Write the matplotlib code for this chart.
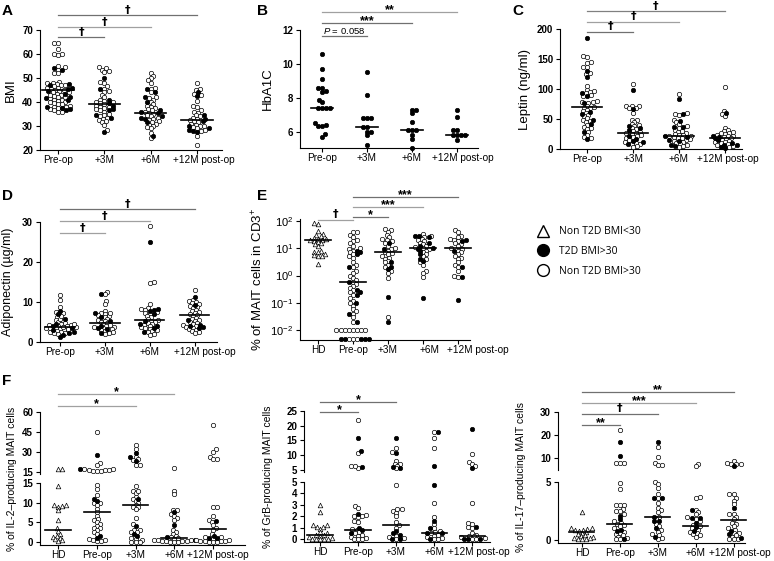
import numpy as np
import matplotlib.pyplot as plt
from matplotlib import transforms
from matplotlib.lines import Line2D

plt.rcParams['font.family'] = ['Liberation Sans', 'DejaVu Sans']
plt.rcParams['mathtext.fontset'] = 'custom'
plt.rcParams['mathtext.rm'] = 'Liberation Sans'
plt.rcParams['mathtext.it'] = 'Liberation Sans:italic'
plt.rcParams['mathtext.bf'] = 'Liberation Sans:bold'

W, H = 774, 561

groups4 = ['Pre-op', '+3M', '+6M', '+12M post-op']
groups5 = ['HD', 'Pre-op', '+3M', '+6M', '+12M post-op']

# A: BMI
bmi_open = [
    [64.5, 64.5, 62, 60, 59.5, 60, 55, 54.5, 53.5, 52, 52, 48.5, 48, 48, 47.5, 47, 46.5, 46, 45.5, 45, 44.5, 44,
     43.5, 43, 42.5, 42, 41.5, 41, 41, 40.5, 40, 40, 39.5, 39, 38.5, 38, 37.5, 37, 36.5, 36, 36, 38, 39, 42, 45,
     46, 47, 44, 43],
    [54.5, 54, 53.5, 53, 52.5, 48.5, 48, 46.5, 45.5, 44.5, 44, 43, 42, 41, 40.5, 40, 40, 39.5, 39, 38.5, 38, 38,
     37.5, 37, 36.5, 36, 35, 34.5, 34, 33.5, 33, 32.5, 32, 31.5, 30.5, 28.5],
    [52, 51, 50, 49, 48, 46, 45.5, 44, 42, 41.5, 41, 40, 39, 38.5, 38, 37.5, 37, 36.5, 36, 35.5, 35, 34.5, 34,
     33.5, 33, 32.5, 32, 31.5, 31, 30.5, 30, 29.5, 29, 27, 25],
    [48, 45.5, 45, 43.5, 43, 40.5, 38.5, 38, 36.5, 36, 35.5, 34.5, 34, 33.5, 33, 32.5, 32, 31.5, 31, 30.5, 30, 30,
     29.5, 29, 28.5, 28, 26, 22],
]
bmi_filled = [
    [54, 53.5, 47.5, 47, 46, 45.5, 44.5, 43.5, 42, 41.5, 41, 37.5, 36.5, 37, 38],
    [50, 45.5, 41, 39.5, 38.5, 37, 36.5, 34.5, 33.5, 27.5],
    [45.5, 44, 42, 40, 36.5, 36, 35.5, 34, 33.5, 33, 31.5, 26],
    [44, 42.5, 34.5, 33, 32, 30, 29, 28.5, 28, 27.5],
]
bmi_median = [45, 39, 35.5, 32.3]

# B: HbA1C (all T2D)
hba_filled = [
    [10.6, 9.7, 9.1, 8.6, 8.6, 8.4, 8.35, 7.9, 7.75, 7.4, 7.4, 7.4, 7.4, 6.5, 6.35, 6.35, 6.4, 5.85, 5.7],
    [9.5, 8.2, 6.8, 6.8, 6.8, 6.3, 6.3, 6.0, 6.0, 5.8, 5.2],
    [7.3, 7.3, 7.1, 6.6, 6.1, 6.1, 6.1, 5.8, 5.6, 5.05],
    [7.3, 6.9, 6.1, 6.1, 5.8, 5.8, 5.8, 5.8, 5.5],
]
hba_median = [7.4, 6.3, 6.1, 5.8]

# C: Leptin
lep_open = [
    [155, 154, 145, 143, 137, 136, 127, 125, 105, 99, 97, 95, 93, 90, 89, 80, 79, 78, 77, 72, 70, 69, 68, 65, 63,
     60, 57, 55, 51, 48, 46, 45, 40, 37, 35, 33, 28, 23, 20, 18],
    [108, 72, 72, 71, 69, 68, 60, 49, 48, 45, 42, 40, 38, 35, 33, 30, 28, 27, 26, 25, 23, 22, 20, 18, 15, 12, 10,
     9, 8, 5, 3],
    [91, 60, 59, 57, 48, 45, 42, 38, 35, 32, 30, 28, 27, 25, 24, 23, 22, 21, 20, 19, 18, 16, 15, 14, 12, 10, 8, 7,
     5, 3],
    [104, 63, 58, 55, 35, 32, 30, 28, 27, 26, 25, 24, 22, 21, 20, 18, 17, 15, 13, 12, 11, 10, 8, 6, 5, 3],
]
lep_filled = [
    [185, 130, 120, 94, 88, 76, 62, 58, 49, 41, 29, 17],
    [98, 66, 38, 35, 31, 22, 17, 14, 12, 8],
    [84, 58, 47, 37, 36, 22, 20, 15, 13, 7, 5],
    [60, 22, 20, 18, 15, 10, 7, 6, 4, 2],
]
lep_median = [70, 27, 22, 19]

# D: Adiponectin
adi_open = [
    [11.8, 10.5, 8.8, 7.5, 7.2, 6.2, 5.5, 5.2, 5, 4.8, 4.5, 4.3, 4.2, 4, 3.9, 3.8, 3.6, 3.5, 3.4, 3.2, 3, 2.8, 2.6,
     2.5, 2.3, 2.2, 2, 3.3, 3.7, 4.6, 5.8, 6.5],
    [12.5, 12, 10.2, 9.5, 7.8, 7.2, 7, 6.5, 6.2, 5.8, 5.5, 5.2, 5, 4.8, 4.5, 4.2, 4, 3.8, 3.5, 3.3, 3, 2.8, 2.5,
     2.2, 2, 7.2, 6.8, 3.8],
    [29, 15, 14.8, 9.5, 8.5, 8.2, 8, 7.5, 7.2, 7, 6.5, 6.2, 5.8, 5.5, 5.2, 5, 4.8, 4.5, 4.2, 4, 3.8, 3.5, 3.2, 3,
     2.8, 2.5, 2, 1.8],
    [13, 10.5, 10.3, 10, 9.8, 9.5, 9, 8.8, 8.5, 8, 7.8, 7.5, 7.2, 7, 6.8, 6.5, 6, 5.8, 5.5, 5.2, 5, 4.8, 4.5, 4.3,
     4, 3.8, 3.5, 3.3, 3, 2.8, 2.5, 2.2],
]
adi_filled = [
    [7.8, 7, 5.8, 4.5, 4, 3.5, 3, 2.6, 2.3, 1.8, 1.3],
    [12, 7.2, 6.2, 5.2, 4, 3.5, 3.2, 2.2],
    [25, 8.2, 8.1, 7.8, 7, 5.3, 4.5, 4, 3.5, 2.5],
    [11.2, 9.2, 5.5, 4.2, 4, 3.8, 3.5],
]
adi_median = [3.8, 4.8, 5.4, 6.8]

# E: % MAIT in CD3+ (HD = triangles)
mait_hd = [82, 76, 41, 33, 30, 27, 24, 22, 21, 20, 19, 18, 17, 15, 14, 12, 8, 7.5, 7, 6, 5.5, 5, 5, 2.6]
mait_open = [
    [40, 38, 30, 25, 20, 18, 15, 12, 10, 9, 8, 7, 6, 5, 4.5, 3, 2.5, 2, 1.5, 1.2, 1, 0.8, 0.7, 0.6, 0.5, 0.4,
     0.35, 0.3, 0.25, 0.2, 0.15, 0.12, 0.1, 0.08, 0.06, 0.05, 0.04, 0.03, 0.02,
     0.01, 0.01, 0.01, 0.01, 0.01, 0.01, 0.01, 0.01, 0.005, 0.005, 0.005],
    [50, 45, 40, 30, 25, 22, 20, 18, 15, 12, 10, 9, 8, 7, 6.5, 6, 5, 4.5, 4, 3.5, 3, 2.5, 2, 1.5, 1.2, 0.8, 0.03],
    [32, 28, 25, 22, 20, 18, 16, 14, 12, 11, 10, 9, 8, 7, 6, 5, 4, 3, 2.5, 1.5, 1.2, 0.9],
    [45, 40, 28, 25, 22, 20, 18, 15, 14, 12, 10, 9, 8, 7, 6, 5, 4.5, 4, 3, 2.5, 2, 1.5, 1, 0.9],
]
mait_filled = [
    [8, 7, 6, 2, 0.6, 0.3, 0.25, 0.2, 0.1, 0.04, 0.02, 0.005, 0.005, 0.005, 0.005, 0.005],
    [16, 9, 3, 2, 1.7, 0.17, 0.02],
    [28, 27, 25, 15, 12, 10, 9, 8, 6, 4, 3.5, 0.15],
    [20, 18, 8, 2, 0.9, 0.13],
]
mait_median = [19, 0.6, 7, 10, 10]

# F1: IL-2
il2_hd = [17, 17, 14.3, 9.3, 9.0, 9.2, 9.5, 8.2, 5.5, 3.5, 2.8, 2, 1.5, 1.2, 1.0, 0.8, 0.5, 0.3]
il2_open = [
    [45, 22, 20, 17, 17, 16.5, 16.5, 16.5, 16, 16, 15.5, 14.5, 13.5, 12, 10, 10, 9.5, 8.5, 7.5, 6.5, 5.8, 5.5, 5,
     4.5, 4, 3.5, 3.5, 3, 2.5, 2, 0.8, 0.5, 0.5, 0.3, 0.2],
    [35, 32, 26, 25, 24, 20, 20, 14.2, 13, 12.5, 13, 11.5, 11, 10.5, 10, 9.5, 9, 9, 8.5, 6, 4.5, 3, 3, 2.5, 2.5,
     1, 0.8, 0.5, 0, 0, 0],
    [18, 13, 12.2, 8.2, 8, 7, 6.5, 6, 5.5, 3, 2.5, 2, 1.5, 1.2, 1, 0.8, 0.6, 0.5, 0.4, 0.3, 0.2, 0.1, 0.1, 0, 0,
     0],
    [50, 32, 30, 26, 24.5, 24.5, 9, 9, 6.5, 5.5, 5, 4.3, 3.5, 3, 2, 1.3, 1.2, 0.8, 0.6, 0.5, 0.3, 0.3, 0.2, 0.1,
     0, 0, 0],
]
il2_filled = [
    [28, 17, 11, 10.5, 1.5, 1],
    [29, 26, 23, 11, 4, 2, 1.5],
    [7.5, 4.3, 1.2, 0.5],
    [5.3, 1.5, 1, 1],
]
il2_median = [3, 7.6, 9.5, 1.1, 3.2]

# F2: GrB
grb_hd = [3.0, 2.4, 1.2, 1.2, 1.1, 1.1, 0.9, 0.6, 0.5, 0.4, 0.35, 0.3, 0.2, 0.1, 0.05, 0, 0, 0, 0]
grb_open = [
    [22, 10.7, 6.3, 5.6, 6.2, 2.9, 2.7, 2.1, 2.0, 2.0, 1.9, 1.6, 1.5, 0.9, 0.8, 0.6, 0.5, 0.4, 0.3, 0.2, 0.1,
     0.05, 0, 0],
    [12.5, 11, 8, 7, 7, 6.5, 5.5, 4.7, 2.6, 2.6, 2.5, 2.3, 2.0, 1.5, 1.2, 1.0, 0.3, 0.2, 0.1, 0],
    [18, 16, 12.3, 3.2, 1.9, 1.3, 1.0, 0.7, 0.6, 0.5, 0.4, 0.3, 0.2, 0.1, 0, 0],
    [10.3, 7.8, 7, 6.3, 3.2, 1.4, 1.3, 1.1, 1.0, 0.5, 0.4, 0.3, 0.25, 0.2, 0.1, 0, 0],
]
grb_filled = [
    [15.8, 11.5, 6, 2.2, 1.0, 0.8, 0.5],
    [16, 10.7, 6, 5.8, 0.7, 0.5, 0.4, 0, 0],
    [18, 6.5, 4.7, 1.6, 1.0, 0.5, 0.5, 0],
    [19, 5.7, 1.1, 0, 0, 0],
]
grb_median = [0.35, 0.8, 1.2, 0.5, 0.3]

# F3: IL-17
il17_hd = [2.4, 1.0, 1.0, 0.95, 0.9, 0.85, 0.8, 0.7, 0.6, 0.5, 0.4, 0.35, 0.3, 0.2, 0.15, 0.1, 0.1, 0.1]
il17_open = [
    [22, 8, 8, 8, 4.9, 4.4, 3.0, 3.0, 3.0, 2.7, 2.5, 2.5, 2.2, 1.6, 1.5, 1.4, 1.3, 1.2, 1.0, 0.7, 0.6, 0.5, 0.4,
     0.3, 0.2, 0.1, 0.05],
    [15, 10.5, 8, 7, 7, 5.0, 4.8, 4.5, 4.0, 3.6, 3.2, 2.8, 2.6, 2.4, 2.0, 1.8, 1.4, 1.2, 0.9, 0.7, 0.5, 0.4, 0.2,
     0.1],
    [7.5, 6.5, 3.7, 3.6, 2.6, 2.4, 2.2, 2.0, 1.8, 1.6, 1.3, 1.2, 1.0, 0.9, 0.7, 0.6, 0.5, 0.4, 0.3],
    [8.7, 8, 7.5, 7.5, 7.5, 4.0, 4.0, 3.6, 3.4, 3.1, 2.2, 2.2, 2.0, 1.8, 1.5, 1.4, 1.2, 1.0, 0.9, 0.6, 0.6, 0.4,
     0.3, 0.1, 0.05, 0.05],
]
il17_filled = [
    [17, 11, 2.1, 1.8, 0.9, 0.8, 0.05],
    [17, 3.6, 3.6, 2.0, 1.6, 1.6, 1.0, 0.3],
    [2.6, 1.9, 1.9, 1.5, 1.1, 0.8],
    [6.5, 2.8, 0.8, 0.5, 0.2],
]
il17_median = [0.7, 1.4, 2.0, 1.2, 1.7]

fig = plt.figure(figsize=(7.74, 5.61), dpi=100)


def box(l, t, r, b):
    return [l / W, 1 - b / H, (r - l) / W, (b - t) / H]


def style(ax, bottom=True):
    for s in ['top', 'right']:
        ax.spines[s].set_visible(False)
    ax.spines['left'].set_linewidth(0.8)
    ax.spines['bottom'].set_linewidth(0.8)
    ax.spines['bottom'].set_visible(bottom)
    ax.tick_params(length=3, width=0.8, labelsize=7, pad=2)
    for t in ax.get_yticklabels():
        t.set_fontweight('bold')
    if not bottom:
        ax.tick_params(axis='x', bottom=False, labelbottom=False)


def swarm(ax, xc, vals, d=4.6, gap=0.66):
    # simple beeswarm in pixel space
    tr = ax.transData
    inv = tr.inverted()
    x0 = tr.transform((xc, 1.0))[0]
    order = sorted(range(len(vals)), key=lambda i: vals[i])
    placed = []
    xs = [0.0] * len(vals)
    pref = 1
    lim = (d * gap) ** 2
    for i in order:
        y = tr.transform((xc, vals[i]))[1]
        near = [(px, py) for px, py in placed if abs(py - y) < d]
        best = None
        k = 0
        while best is None:
            cands = [0.0] if k == 0 else [pref * k * d * 0.3, -pref * k * d * 0.3]
            for off in cands:
                if all((off - px) ** 2 + (y - py) ** 2 >= lim for px, py in near):
                    best = off
                    break
            k += 1
        if best > 0:
            pref = -1
        elif best < 0:
            pref = 1
        placed.append((best, y))
        xs[i] = inv.transform((x0 + best, y))[0]
    return xs


def draw(ax, groups, medians, half, lo=None, hi=None):
    # groups: list of lists of (value, kind)
    for gi, pts in enumerate(groups):
        pts = [p for p in pts if (lo is None or p[0] >= lo) and (hi is None or p[0] <= hi)]
        if not pts:
            continue
        vals = [p[0] for p in pts]
        xs = swarm(ax, gi, vals)
        for (v, kind), x in zip(pts, xs):
            if kind == 'f':
                ax.scatter(x, v, s=10, c='black', edgecolors='black', linewidths=0.5, clip_on=False, zorder=3)
            elif kind == 'o':
                ax.scatter(x, v, s=10, c='white', edgecolors='black', linewidths=0.5, clip_on=False, zorder=3)
            else:
                ax.scatter(x, v, s=11, marker='^', c='white', edgecolors='black', linewidths=0.5,
                           clip_on=False, zorder=3)
    for gi, m in enumerate(medians):
        if (lo is None or m >= lo) and (hi is None or m <= hi):
            ax.plot([gi - half, gi + half], [m, m], color='black', lw=1.2, zorder=4, clip_on=False)


def build(opens, filled, tri=None):
    out = []
    if tri is not None:
        out.append([(v, 't') for v in tri])
    for o, f in zip(opens, filled):
        out.append([(v, 'o') for v in o] + [(v, 'f') for v in f])
    return out


def sig(ax, x0, x1, ypx, label, color='#808080'):
    tr = transforms.blended_transform_factory(ax.transData, fig.transFigure)
    y = 1 - ypx / H
    ax.plot([x0, x1], [y, y], color=color, lw=0.9, transform=tr, clip_on=False)
    if label.startswith('$'):
        ax.text(x0 + (x1 - x0) * 0.5, y + 0.5 / H, label, transform=tr, ha='center', va='bottom', fontsize=6.8)
    elif label == '†':
        ax.text((x0 + x1) / 2, y + 0.5 / H, label, transform=tr, ha='center', va='bottom', fontsize=8,
                fontweight='bold', family=['DejaVu Sans'])
    else:
        ax.text((x0 + x1) / 2, y - 4 / H, label, transform=tr, ha='center', va='bottom', fontsize=9,
                fontweight='bold')


def letter(xpx, ypx, s):
    fig.text(xpx / W, 1 - ypx / H, s, fontsize=11, fontweight='bold', va='top', ha='left')


def xcats(ax, labels, shifts=None):
    ax.set_xticks(range(len(labels)))
    ax.set_xticklabels([])
    base = transforms.blended_transform_factory(ax.transData, ax.transAxes)
    for i, lab in enumerate(labels):
        dx = shifts[i] if shifts else 0
        off = transforms.ScaledTranslation(dx / 100, -5 / 100, fig.dpi_scale_trans)
        ax.text(i, 0, lab, transform=base + off, ha='center', va='top', fontsize=7.2)


# ---- A
axA = fig.add_axes(box(40, 30, 222, 150))
axA.set_xlim(-0.39, 3.54)
axA.set_ylim(20, 70)
axA.set_yticks([20, 30, 40, 50, 60, 70])
xcats(axA, groups4, [0, 0, 0, 7])
style(axA)
draw(axA, build(bmi_open, bmi_filled), bmi_median, 0.34)
axA.set_ylabel('BMI', fontsize=9.5, labelpad=4)
sig(axA, 0, 3, 15, '†', '#707070')
sig(axA, 0, 2, 27, '†', '#a0a0a0')
sig(axA, 0, 1, 37, '†', '#707070')
letter(2, 4, 'A')

# ---- B
axB = fig.add_axes(box(300, 30, 478, 148))
axB.set_xlim(-0.49, 3.47)
axB.set_ylim(5.05, 12)
axB.set_yticks([6, 8, 10, 12])
xcats(axB, groups4, [0, 0, 0, 6])
style(axB)
draw(axB, build([[], [], [], []], hba_filled), hba_median, 0.25)
axB.set_ylabel('HbA1C', fontsize=9.5, labelpad=6)
sig(axB, 0, 3, 12, '**', '#a0a0a0')
sig(axB, 0, 2, 23, '***', '#707070')
sig(axB, 0, 1, 36, '$\\it{P}$ = 0.058', '#707070')
letter(257, 4, 'B')

# ---- C
axC = fig.add_axes(box(560, 29, 742, 149))
axC.set_xlim(-0.59, 3.37)
axC.set_ylim(0, 200)
axC.set_yticks([0, 50, 100, 150, 200])
xcats(axC, groups4, [0, 0, 0, 3])
style(axC)
draw(axC, build(lep_open, lep_filled), lep_median, 0.33)
axC.set_ylabel('Leptin (ng/ml)', fontsize=9.5, labelpad=4)
sig(axC, 0, 3, 11, '†', '#808080')
sig(axC, 0, 2, 22, '†', '#a0a0a0')
sig(axC, 0, 1, 32, '†', '#707070')
letter(512, 4, 'C')

# ---- D
axD = fig.add_axes(box(40, 222, 217, 342))
axD.set_xlim(-0.44, 3.5)
axD.set_ylim(0, 30)
axD.set_yticks([0, 10, 20, 30])
xcats(axD, groups4, [0, 0, 0, 10])
style(axD)
draw(axD, build(adi_open, adi_filled), adi_median, 0.33)
axD.set_ylabel('Adiponectin (µg/ml)', fontsize=9, labelpad=6)
sig(axD, 0, 3, 209, '†', '#707070')
sig(axD, 0, 2, 221, '†', '#a0a0a0')
sig(axD, 0, 1, 233, '†', '#a0a0a0')
letter(2, 189, 'D')

# ---- E
axE = fig.add_axes(box(300, 219, 470, 340))
axE.set_yscale('log')
axE.set_xlim(-0.51, 4.34)
axE.set_ylim(0.0045, 115)
axE.set_yticks([0.01, 0.1, 1, 10, 100])
axE.minorticks_off()
xcats(axE, groups5, [0, 0, 0, 7, 20])
style(axE)
for t in axE.get_yticklabels():
    t.set_fontweight('normal')
axE.tick_params(axis='y', labelsize=8)
draw(axE, build(mait_open, mait_filled, mait_hd), mait_median, 0.37)
axE.set_ylabel('% of MAIT cells in CD3$^{+}$', fontsize=9.5, labelpad=3)
sig(axE, 1, 4, 197, '***', '#707070')
sig(axE, 1, 3, 207, '***', '#a0a0a0')
sig(axE, 1, 2, 217, '*', '#707070')
sig(axE, 0, 1, 220, '†', '#a0a0a0')
letter(257, 189, 'E')

# ---- legend
handles = [
    Line2D([], [], marker='^', ls='none', mfc='white', mec='black', ms=9, mew=1.0),
    Line2D([], [], marker='o', ls='none', mfc='black', mec='black', ms=8.5, mew=1.0),
    Line2D([], [], marker='o', ls='none', mfc='white', mec='black', ms=8.5, mew=1.0),
]
fig.legend(handles, ['Non T2D BMI<30', 'T2D BMI>30', 'Non T2D BMI>30'], loc='upper left',
           bbox_to_anchor=(533 / W, 1 - 222 / H), frameon=False, handletextpad=0.9,
           labelspacing=0.85, borderaxespad=0, handlelength=1.2, prop={'family': 'Open Sans', 'size': 7.5})


# ---- F panels (broken axes)
def fpanel(l, r, lo_box, hi_box, xlim, lo_lim, hi_lim, lo_ticks, hi_ticks, brk, groups, med, ylab, ylx,
           shifts, half=0.33):
    axl = fig.add_axes(box(l, lo_box[0], r, lo_box[1]))
    axh = fig.add_axes(box(l, hi_box[0], r, hi_box[1]))
    for ax, lim, tk in [(axl, lo_lim, lo_ticks), (axh, hi_lim, hi_ticks)]:
        ax.set_xlim(*xlim)
        ax.set_ylim(*lim)
        ax.set_yticks(tk)
    xcats(axl, groups5, shifts)
    axh.set_xticks(range(5))
    style(axl)
    style(axh, bottom=False)
    draw(axl, groups, med, half, hi=brk)
    draw(axh, groups, med, half, lo=brk + 1e-9)
    fig.text(ylx / W, 1 - (hi_box[0] + lo_box[1]) / 2 / H, ylab, rotation=90, ha='center', va='center',
             fontsize=7.5)
    return axl, axh


f1l, f1h = fpanel(40, 245, (483, 545), (412, 474), (-0.47, 4.83), (-0.8, 15), (13.5, 60),
                  [0, 5, 10, 15], [15, 30, 45, 60], 15, build(il2_open, il2_filled, il2_hd), il2_median,
                  '% of IL-2–producing MAIT cells', 12, [0, 0, 0, 0, 5])
sig(f1h, 0, 3, 394, '*', '#a0a0a0')
sig(f1h, 0, 2, 406, '*', '#a0a0a0')
letter(2, 374, 'F')

f2l, f2h = fpanel(304, 490, (482, 542), (411, 472), (-0.42, 4.47), (-0.25, 5), (4.3, 25),
                  [0, 1, 2, 3, 4, 5], [5, 10, 15, 20, 25], 5, build(grb_open, grb_filled, grb_hd), grb_median,
                  '% of GrB-producing MAIT cells', 268, [0, 0, 0, 0, 7])
sig(f2h, 0, 2, 402, '*', '#707070')
sig(f2h, 0, 1, 412, '*', '#707070')

f3l, f3h = fpanel(558, 745, (482, 543), (412, 470), (-0.63, 4.3), (-0.26, 5), (4.8, 30),
                  [0, 5], [10, 20, 30], 5, build(il17_open, il17_filled, il17_hd), il17_median,
                  '% of IL-17–producing MAIT cells', 521, [0, 0, 0, 0, 6])
sig(f3h, 0, 4, 392, '**', '#707070')
sig(f3h, 0, 3, 403, '***', '#a0a0a0')
sig(f3h, 0, 2, 414, '†', '#707070')
sig(f3h, 0, 1, 425, '**', '#707070')

fig.savefig('out.png', dpi=100)
